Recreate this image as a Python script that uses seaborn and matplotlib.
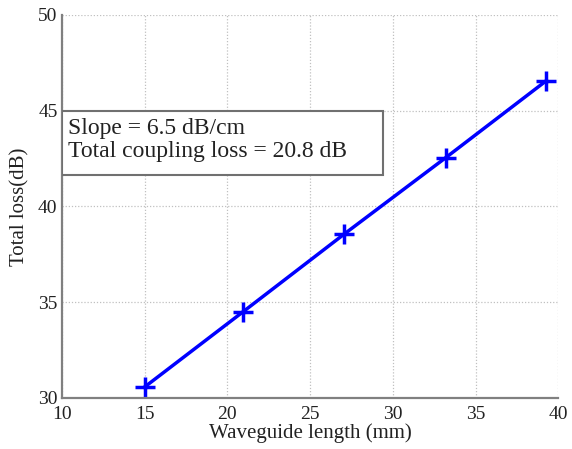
import matplotlib
matplotlib.use("Agg")
import matplotlib.pyplot as plt
import seaborn as sns
import pandas as pd
from matplotlib.patches import Rectangle

length_mm = [15.0, 20.95, 27.05, 33.2, 39.25]
total_loss_db = [30.57, 34.5, 38.55, 42.55, 46.55]
x_ticks = [10, 15, 20, 25, 30, 35, 40]
y_ticks = [30, 35, 40, 45, 50]
annotation = "Slope = 6.5 dB/cm\nTotal coupling loss = 20.8 dB"

sns.set_style("white")
plt.rcParams['font.family'] = ['Liberation Serif', 'DejaVu Serif']

fig = plt.figure(figsize=(5.72, 4.49), dpi=100)
ax = fig.add_axes([0.108, 0.1136, 0.868, 0.853])

df = pd.DataFrame({"x": length_mm, "y": total_loss_db})
sns.lineplot(data=df, x="x", y="y", ax=ax, color="#0000ff", linewidth=2.5,
             marker="+", markersize=15, markeredgewidth=2.5, markeredgecolor="#0000ff")

ax.set_xlim(10, 40)
ax.set_ylim(30, 50)
ax.set_xticks(x_ticks)
ax.set_yticks(y_ticks)
ax.grid(True, linestyle=(0, (1, 1.5)), color="#c0c0c0", linewidth=0.9)
for s in ["top", "right"]:
    ax.spines[s].set_visible(False)
for s in ["left", "bottom"]:
    ax.spines[s].set_color("#808080")
    ax.spines[s].set_linewidth(1.6)
ax.tick_params(direction="in", length=4, width=1, colors="#808080", labelcolor="#222222",
               labelsize=14)
ax.tick_params(axis="x", pad=6)
ax.tick_params(axis="y", pad=3)
ax.set_xlabel("Waveguide length (mm)", fontsize=15, color="#222222", labelpad=0)
ax.set_ylabel("Total loss(dB)", fontsize=15, color="#222222", labelpad=6)

rect = Rectangle((10, 41.65), 19.4, 3.35, transform=ax.transData, facecolor="white",
                 edgecolor="#707070", linewidth=1.5, zorder=5)
ax.add_patch(rect)
ax.text(10.35, 44.6, annotation, fontsize=17, va="top", ha="left", color="#222222",
        linespacing=1.1, zorder=6)

fig.savefig("out.png", dpi=100)
